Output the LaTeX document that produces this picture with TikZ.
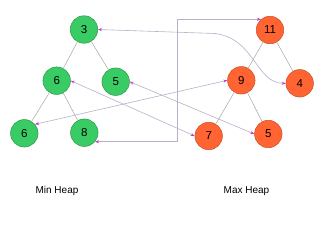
\documentclass[tikz,border=0pt]{standalone}
\usepackage{fontspec}
\setmainfont{Liberation Sans}
\usetikzlibrary{arrows.meta}
\definecolor{mingreen}{RGB}{58,204,100}
\definecolor{mingreenb}{RGB}{40,150,72}
\definecolor{maxorange}{RGB}{255,100,50}
\definecolor{maxorangeb}{RGB}{200,78,38}
\definecolor{treeedge}{RGB}{165,165,165}
\definecolor{linkline}{RGB}{185,175,200}
\definecolor{linktip}{RGB}{190,60,200}
\begin{document}
\begin{tikzpicture}[x=1pt,y=-1pt,
  heapnode/.style={circle,draw,line width=0.5pt,minimum size=27.5pt,inner sep=0pt,font=\fontsize{11.5}{12}\selectfont},
  minnode/.style={heapnode,fill=mingreen,draw=mingreenb},
  maxnode/.style={heapnode,fill=maxorange,draw=maxorangeb},
  tedge/.style={draw=treeedge,line width=0.5pt},
  link/.style={draw=linkline,line width=0.6pt,{Stealth[length=4pt,width=3pt,color=linktip]}-{Stealth[length=4pt,width=3pt,color=linktip]}},
  caption/.style={font=\fontsize{10}{12}\selectfont}]
\useasboundingbox (0,0) rectangle (330,225);
% min heap
\node[minnode] (m3) at (84,29.5) {3};
\node[minnode] (m6) at (56.7,80.7) {6};
\node[minnode] (m5) at (115.7,81.7) {5};
\node[minnode] (m6b) at (24.3,133.3) {6};
\node[minnode] (m8) at (84.3,132.7) {8};
% max heap
\node[maxnode] (x11) at (270,30) {11};
\node[maxnode] (x9) at (241.3,80.3) {9};
\node[maxnode] (x4) at (299.7,83.3) {4};
\node[maxnode] (x7) at (208.7,136) {7};
\node[maxnode] (x5) at (268.3,134) {5};
% tree edges
\draw[tedge] (m3) -- (m6);
\draw[tedge] (m3) -- (m5);
\draw[tedge] (m6) -- (m6b);
\draw[tedge] (m6) -- (m8);
\draw[tedge] (x11) -- (x9);
\draw[tedge] (x11) -- (x4);
\draw[tedge] (x9) -- (x7);
\draw[tedge] (x9) -- (x5);
% links
\draw[link] (m3.east) -- ++(117,4) .. controls +(40,5) and +(-30,0) .. (x4.west);
\draw[link] (m6b.40) -- (x9.180);
\draw[link] (m6.east) -- (x7.west);
\draw[link] (m5.east) -- (x5.west);
\draw[link] (m8.-40) -- ++(82.5,0) |- (x11.130);
% captions
\node[caption] (cmin) at (57,191) {Min Heap};
\node[caption] (cmax) at (246.5,191) {Max Heap};
\end{tikzpicture}
\end{document}
